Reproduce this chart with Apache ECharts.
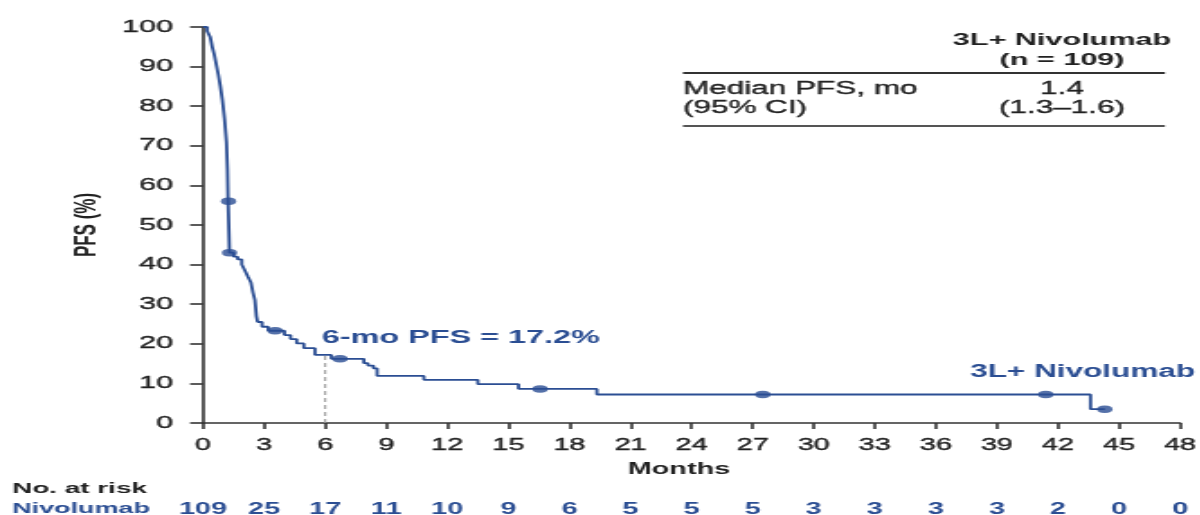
<!DOCTYPE html>
<html>
<head>
<meta charset="utf-8">
<script src="https://cdn.jsdelivr.net/npm/echarts@6/dist/echarts.min.js"></script>
<style>
  html, body { margin: 0; padding: 0; background: #fff; overflow: hidden; }
  /* the figure is laid out narrow and widened horizontally */
  #chart { width: 667px; height: 515px; transform: scaleX(1.8); transform-origin: 0 0; }
</style>
</head>
<body>
<div id="chart"></div>
<script>
// Kaplan–Meier progression-free survival, 3L+ nivolumab
const kmMonths = [0, 0.2, 0.35, 0.45, 0.55, 0.65, 0.75, 0.85, 0.95, 1.05, 1.15, 1.2, 1.23, 1.3,
  1.5, 1.7, 1.9, 2.05, 2.2, 2.35, 2.45, 2.55, 2.62, 2.68, 2.9, 3.2, 4.0, 4.3, 4.6, 4.95, 5.5,
  6.3, 7.9, 8.1, 8.37, 8.55, 10.85, 13.5, 15.5, 19.35, 43.6, 44.3];
const kmPFS = [100, 99, 97.5, 95, 93, 90.5, 88, 85, 81.5, 77, 71, 64, 56, 43,
  42, 41.3, 40, 38.6, 37, 35.5, 33, 31, 27, 25.5, 24.3, 23.3, 22.2, 21.2, 20.1, 18.9, 17.2,
  16.2, 15.1, 14.5, 13.8, 11.9, 10.9, 9.8, 8.6, 7.2, 3.5, 3.5];

// censored observations
const censorMonths = [1.25, 1.3, 3.54, 6.73, 16.56, 27.5, 41.4, 44.3];
const censorPFS = [56, 43, 23.3, 16.2, 8.6, 7.2, 7.2, 3.5];

// landmark
const landmarkMonth = 6;
const sixMonthPFS = 17.2;

// number at risk
const riskMonths = [0, 3, 6, 9, 12, 15, 18, 21, 24, 27, 30, 33, 36, 39, 42, 45, 48];
const riskCounts = [109, 25, 17, 11, 10, 9, 6, 5, 5, 5, 3, 3, 3, 3, 2, 0, 0];

// summary table
const armName = '3L+ Nivolumab';
const armN = '(n = 109)';
const medianLabel = ['Median PFS, mo', '(95% CI)'];
const medianValue = ['1.4', '(1.3\u20131.6)'];

const BLUE = '#2b4e93';
const INK = '#222';
const AXIS = '#333';
const FONT = '"Liberation Sans", Arial, sans-serif';

const chart = echarts.init(document.getElementById('chart'));

// plain text; a thin outline in the fill colour gives regular weight a little more body
const txt = (x, y, text, size, weight, fill, align, valign) => ({
  type: 'text', x, y, silent: true,
  style: { text, fontSize: size, fontWeight: weight, fontFamily: FONT, fill,
           stroke: weight === 'normal' ? fill : null, lineWidth: weight === 'normal' ? 0.35 : 0,
           textAlign: align || 'left', textVerticalAlign: valign || 'middle' }
});

const tableX0 = 379.4, tableX1 = 647.2, valueX = 590;

chart.setOption({
  animation: false,
  backgroundColor: '#fff',
  textStyle: { fontFamily: FONT },
  grid: { left: 112.8, right: 11.4, top: 27, bottom: 92, containLabel: false,
          outerBoundsMode: 'none' },
  xAxis: [{
    type: 'value', min: 0, max: 48, interval: 3,
    axisLine: { show: true, lineStyle: { color: AXIS, width: 1.6 } },
    axisTick: { show: true, length: 6, lineStyle: { color: AXIS, width: 1.6 } },
    splitLine: { show: false },
    axisLabel: { color: INK, fontSize: 16, margin: 15, fontFamily: FONT,
                 textBorderColor: INK, textBorderWidth: 0.35,
                 showMinLabel: true, showMaxLabel: true, hideOverlap: false }
  }, {
    type: 'value', min: 0, max: 48, interval: 3, position: 'bottom',
    axisLine: { show: false }, axisTick: { show: false }, splitLine: { show: false },
    axisLabel: {
      color: BLUE, fontSize: 16, fontWeight: 'bold', margin: 79, fontFamily: FONT,
      showMinLabel: true, showMaxLabel: true, hideOverlap: false,
      formatter: v => {
        const i = riskMonths.indexOf(Math.round(v));
        return i >= 0 ? String(riskCounts[i]) : '';
      }
    }
  }],
  yAxis: {
    type: 'value', min: 0, max: 100, interval: 10,
    name: 'PFS (%)', nameLocation: 'middle', nameGap: 49, nameRotate: 90,
    nameTextStyle: { color: INK, fontSize: 17, fontWeight: 'bold', fontFamily: FONT },
    axisLine: { show: true, lineStyle: { color: AXIS, width: 1.6 } },
    axisTick: { show: true, length: 7.2, lineStyle: { color: AXIS, width: 1.6 } },
    splitLine: { show: false },
    axisLabel: { color: INK, fontSize: 17, margin: 16.7, fontFamily: FONT,
                 textBorderColor: INK, textBorderWidth: 0.35,
                 showMinLabel: true, showMaxLabel: true }
  },
  series: [{
    name: 'landmark', type: 'line', silent: true, z: 1,
    data: [[landmarkMonth, 0], [landmarkMonth, sixMonthPFS]],
    showSymbol: false,
    lineStyle: { color: '#9a9a9a', width: 1.1, type: [4, 3] }
  }, {
    name: armName, type: 'line', step: 'end', z: 3,
    data: kmMonths.map((m, i) => [m, kmPFS[i]]),
    showSymbol: false,
    lineStyle: { color: BLUE, width: 1.8 }
  }, {
    name: 'censored', type: 'scatter', z: 4,
    data: censorMonths.map((m, i) => [m, censorPFS[i]]),
    symbol: 'circle', symbolSize: [8.5, 7.5],
    itemStyle: { color: BLUE }
  }],
  graphic: [
    txt(377.2, 470, 'Months', 16, 'bold', INK, 'center'),
    txt(178.7, 338, `6-mo PFS = ${sixMonthPFS}%`, 18, 'bold', BLUE),
    txt(538.9, 372.5, armName, 17.5, 'bold', BLUE),
    txt(6.7, 489, 'No. at risk', 15.5, 'bold', INK),
    txt(6.7, 509, 'Nivolumab', 15, 'bold', BLUE),
    // summary table
    txt(valueX, 40, armName, 17, 'bold', INK, 'center'),
    txt(valueX, 60, armN, 17, 'bold', INK, 'center'),
    { type: 'line', silent: true, shape: { x1: tableX0, y1: 73, x2: tableX1, y2: 73 },
      style: { stroke: AXIS, lineWidth: 2 } },
    txt(tableX0, 89, medianLabel[0], 17.5, 'normal', INK),
    txt(tableX0, 108, medianLabel[1], 17.5, 'normal', INK),
    txt(valueX, 89, medianValue[0], 17.5, 'normal', INK, 'center'),
    txt(valueX, 108, medianValue[1], 17.5, 'normal', INK, 'center'),
    { type: 'line', silent: true, shape: { x1: tableX0, y1: 126, x2: tableX1, y2: 126 },
      style: { stroke: '#555', lineWidth: 2 } }
  ]
});
</script>
</body>
</html>
